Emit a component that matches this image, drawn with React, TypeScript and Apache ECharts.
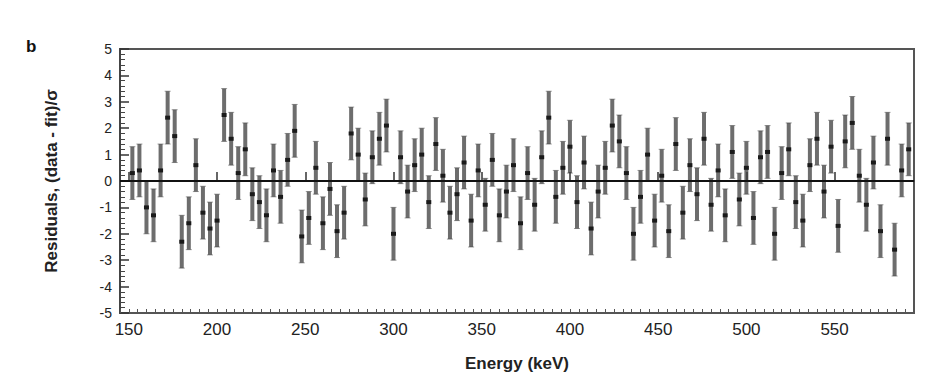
import React, { useEffect, useRef } from "react";
import * as echarts from "echarts";

const energies = [
  152, 156, 160, 164, 168, 172, 176, 180, 184, 188, 192, 196, 200, 204, 208, 212, 216, 220, 224, 228,
  232, 236, 240, 244, 248, 252, 256, 260, 264, 268, 272, 276, 280, 284, 288, 292, 296, 300, 304, 308,
  312, 316, 320, 324, 328, 332, 336, 340, 344, 348, 352, 356, 360, 364, 368, 372, 376, 380, 384, 388,
  392, 396, 400, 404, 408, 412, 416, 420, 424, 428, 432, 436, 440, 444, 448, 452, 456, 460, 464, 468,
  472, 476, 480, 484, 488, 492, 496, 500, 504, 508, 512, 516, 520, 524, 528, 532, 536, 540, 544, 548,
  552, 556, 560, 564, 568, 572, 576, 580, 584, 588, 592,
];

const residuals = [
  0.3, 0.4, -1.0, -1.3, 0.4, 2.4, 1.7, -2.3, -1.6, 0.6, -1.2, -1.8, -1.5, 2.5, 1.6, 0.3, 1.2, -0.5, -0.8, -1.3,
  0.4, -0.6, 0.8, 1.9, -2.1, -1.4, 0.5, -1.6, -0.3, -1.9, -1.2, 1.8, 1.0, -0.7, 0.9, 1.6, 2.1, -2.0, 0.9, -0.4,
  0.6, 1.0, -0.8, 1.4, 0.2, -1.2, -0.5, 0.7, -1.5, 0.4, -0.9, 0.8, -1.3, -0.4, 0.6, -1.6, 0.3, -0.9, 0.9, 2.4,
  -0.6, 0.5, 1.3, -0.8, 0.7, -1.8, -0.4, 0.5, 2.1, 1.5, 0.3, -2.0, -0.6, 1.0, -1.5, 0.2, -1.9, 1.4, -1.2, 0.6,
  -0.5, 1.6, -0.9, 0.4, -1.3, 1.1, -0.7, 0.5, -1.4, 0.9, 1.1, -2.0, 0.3, 1.2, -0.8, -1.5, 0.6, 1.6, -0.4, 1.3,
  -1.7, 1.5, 2.2, 0.2, -0.9, 0.7, -1.9, 1.6, -2.6, 0.4, 1.2,
];

const sigma = 1;
const xTickValues = [150, 200, 250, 300, 350, 400, 450, 500, 550];
const yTickLabels = ["-5", "-4", "-3", "-2", "-1", "0", "1", "2", "3", "4", "5"];

export default function App() {
  const ref = useRef<HTMLDivElement>(null);
  useEffect(() => {
    if (!ref.current) return;
    const chart = echarts.init(ref.current, null, { renderer: "svg" });
    const data = energies.map((e, i) => [e, residuals[i], residuals[i] - sigma, residuals[i] + sigma]);
    const font = "'Liberation Sans', Arial, sans-serif";
    chart.setOption({
      animation: false,
      backgroundColor: "#ffffff",
      grid: {
        left: 112,
        right: 6,
        top: 41,
        bottom: 62,
        show: true,
        borderColor: "#555",
        borderWidth: 2,
        containLabel: false,
      },
      graphic: [
        {
          type: "text",
          left: 18,
          top: 30,
          style: { text: "b", font: `bold 17px ${font}`, fill: "#111" },
        },
      ],
      xAxis: [
        {
          type: "value",
          min: 145,
          max: 595,
          position: "bottom",
          name: "Energy (keV)",
          nameLocation: "middle",
          nameGap: 42,
          nameTextStyle: { fontFamily: font, fontSize: 17, color: "#222", fontWeight: "bold" },
          axisLine: { show: true, lineStyle: { color: "#444", width: 2 } },
          axisTick: { show: true, inside: true, length: 9, customValues: xTickValues, lineStyle: { color: "#333", width: 1.5 } },
          axisLabel: {
            customValues: xTickValues,
            fontFamily: font,
            fontSize: 17,
            color: "#222",
            margin: 8,
            formatter: (v: number) => String(v),
          },
          splitLine: { show: false },
        },
        {
          type: "value",
          min: 145,
          max: 595,
          interval: 5,
          position: "bottom",
          axisLine: { show: false },
          axisTick: { show: true, inside: true, length: 4, lineStyle: { color: "#555", width: 1 } },
          axisLabel: { show: false },
          splitLine: { show: false },
        },
      ],
      yAxis: [
        {
          type: "value",
          min: -5,
          max: 5,
          interval: 1,
          name: "Residuals, (data - fit)/σ",
          nameLocation: "middle",
          nameRotate: 90,
          nameGap: 60,
          nameTextStyle: { fontFamily: font, fontSize: 17, color: "#222", fontWeight: "bold" },
          axisLine: { show: true, lineStyle: { color: "#444", width: 2 } },
          axisTick: { show: true, inside: true, length: 9, lineStyle: { color: "#333", width: 1.5 } },
          minorTick: { show: true, splitNumber: 5, length: 5, lineStyle: { color: "#444", width: 1 } },
          axisLabel: {
            fontFamily: font,
            fontSize: 14,
            color: "#222",
            margin: 8,
            formatter: (v: number) => yTickLabels[Math.round(v) + 5],
          },
          splitLine: { show: false },
        },
      ],
      series: [
        {
          type: "custom",
          xAxisIndex: 0,
          yAxisIndex: 0,
          clip: true,
          encode: { x: 0, y: [1, 2, 3] },
          data,
          renderItem: (params: any, api: any) => {
            const x = api.value(0);
            const y = api.value(1);
            const lo = api.coord([x, api.value(2)]);
            const hi = api.coord([x, api.value(3)]);
            const p = api.coord([x, y]);
            return {
              type: "group",
              children: [
                {
                  type: "line",
                  shape: { x1: lo[0], y1: lo[1], x2: hi[0], y2: hi[1] },
                  style: { stroke: "rgba(60,60,60,0.75)", lineWidth: 4 },
                },
                {
                  type: "line",
                  shape: { x1: lo[0] - 3, y1: lo[1], x2: lo[0] + 3, y2: lo[1] },
                  style: { stroke: "rgba(60,60,60,0.5)", lineWidth: 1 },
                },
                {
                  type: "line",
                  shape: { x1: hi[0] - 3, y1: hi[1], x2: hi[0] + 3, y2: hi[1] },
                  style: { stroke: "rgba(60,60,60,0.5)", lineWidth: 1 },
                },
                {
                  type: "rect",
                  shape: { x: p[0] - 2.5, y: p[1] - 2, width: 5, height: 4 },
                  style: { fill: "#1a1a1a" },
                },
              ],
            };
          },
          markLine: {
            silent: true,
            symbol: "none",
            label: { show: false },
            lineStyle: { color: "#111", width: 2, type: "solid" },
            data: [{ yAxis: 0 }],
          },
        },
      ],
    });
    return () => chart.dispose();
  }, []);
  return <div ref={ref} style={{ width: 912, height: 369 }} />;
}
